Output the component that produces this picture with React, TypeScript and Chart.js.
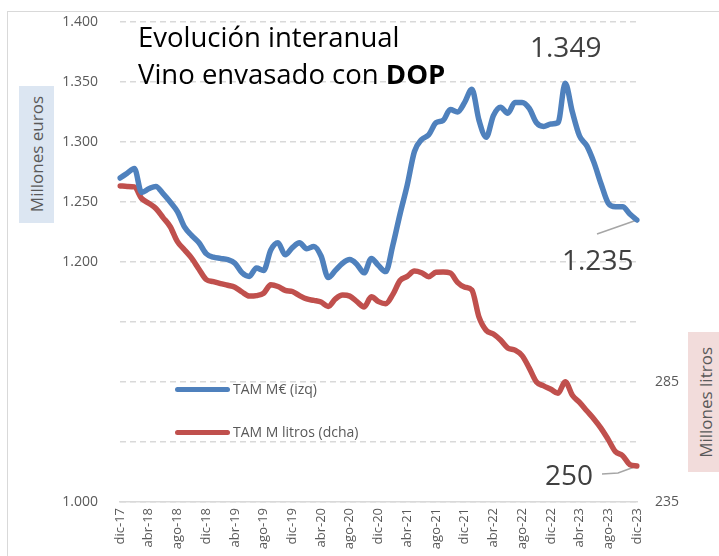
import React, { useEffect, useRef } from 'react';
import { Chart, registerables } from 'chart.js';

Chart.register(...registerables);

const MONTHS = ['ene', 'feb', 'mar', 'abr', 'may', 'jun', 'jul', 'ago', 'sep', 'oct', 'nov', 'dic'];
const YEARS = ['18', '19', '20', '21', '22', '23'];
const FIRST_CATEGORY = 'dic-17';
const CATEGORIES: string[] = [FIRST_CATEGORY];
YEARS.forEach((y) => MONTHS.forEach((m) => CATEGORIES.push(`${m}-${y}`)));

// TAM millones de euros (eje izquierdo)
const TAM_MEUR = [
  1270, 1274, 1278, 1258, 1261, 1263, 1257, 1250, 1242, 1229,
  1222, 1216, 1207, 1204, 1203, 1202, 1199, 1191, 1188, 1195,
  1193, 1210, 1216, 1206, 1212, 1216, 1211, 1213, 1205, 1187,
  1193, 1199, 1202, 1198, 1191, 1203, 1197, 1192, 1214, 1240,
  1264, 1292, 1302, 1306, 1316, 1318, 1327, 1325, 1333, 1344,
  1318, 1304, 1322, 1329, 1324, 1333, 1333, 1328, 1316, 1313,
  1315, 1316, 1349, 1325, 1305, 1297, 1283, 1265, 1249, 1246,
  1246, 1240, 1235,
];

// TAM millones de litros (eje derecho)
const TAM_MLITROS = [
  366.7, 366.5, 366.3, 361.5, 359.5, 357.3, 353.5, 349.7, 343.5, 340,
  336.5, 332, 327.7, 326.8, 326, 325.3, 324.5, 322.5, 320.8, 321,
  322, 325.5, 324.8, 323.2, 322.7, 321, 319.6, 319, 318.3, 316.5,
  319.6, 321.2, 320.8, 318.5, 316.3, 320.5, 318.5, 317.6, 321.5, 327.3,
  329, 331.2, 330.5, 328.9, 330.7, 330.8, 330.4, 326.5, 324.5, 323.3,
  312, 306.5, 305, 302.5, 299.2, 298.3, 296, 290.8, 285, 283.4,
  282, 280.3, 285.1, 279.5, 276.5, 273, 269.6, 265.7, 261, 256,
  254.3, 250.6, 250,
];

const LEFT_LABELS_SHOWN = [1000, 1200, 1250, 1300, 1350, 1400];
const RIGHT_LABELS_SHOWN = [235, 285];
const SERIES_NAMES = ['TAM M€ (izq)', 'TAM M litros (dcha)'];
const ANNOT_MAX = '1.349';
const ANNOT_LAST_EUR = '1.235';
const ANNOT_LAST_L = '250';

const BLUE = '#4f81bd';
const RED = '#c0504d';
const GRID = '#d9d9d9';
const TXT = '#595959';
const FONT = '"Open Sans", "Noto Sans", sans-serif';

const fmtThousands = (v: number) => {
  const n = Math.round(v);
  if (n >= 1000) return `${Math.floor(n / 1000)}.${String(n % 1000).padStart(3, '0')}`;
  return String(n);
};

const leaderPlugin = {
  id: 'leaders',
  beforeDatasetsDraw(chart: any) {
    const ctx = chart.ctx;
    const b = chart.getDatasetMeta(0).data[TAM_MEUR.length - 1];
    const r = chart.getDatasetMeta(1).data[TAM_MLITROS.length - 1];
    if (!b || !r) return;
    ctx.save();
    ctx.strokeStyle = '#a6a6a6';
    ctx.lineWidth = 1.5;
    ctx.beginPath();
    ctx.moveTo(b.x, b.y);
    ctx.lineTo(b.x - 40, b.y + 14);
    ctx.stroke();
    ctx.beginPath();
    ctx.moveTo(r.x, r.y);
    ctx.lineTo(r.x - 19, r.y + 7);
    ctx.lineTo(r.x - 35, r.y + 8);
    ctx.stroke();
    ctx.restore();
  },
};

const abs = (left: number, top: number, extra: React.CSSProperties = {}): React.CSSProperties => ({
  position: 'absolute',
  left,
  top,
  whiteSpace: 'nowrap',
  lineHeight: 1,
  fontFamily: FONT,
  ...extra,
});

export default function App() {
  const ref = useRef<HTMLCanvasElement | null>(null);

  useEffect(() => {
    if (!ref.current) return;
    const chart = new Chart(ref.current, {
      type: 'line',
      data: {
        labels: CATEGORIES,
        datasets: [
          {
            label: SERIES_NAMES[0],
            data: TAM_MEUR,
            yAxisID: 'y',
            borderColor: BLUE,
            backgroundColor: BLUE,
            borderWidth: 5.5,
            pointRadius: 0,
            cubicInterpolationMode: 'monotone',
            borderCapStyle: 'round',
            borderJoinStyle: 'round',
          },
          {
            label: SERIES_NAMES[1],
            data: TAM_MLITROS,
            yAxisID: 'y1',
            borderColor: RED,
            backgroundColor: RED,
            borderWidth: 5.5,
            pointRadius: 0,
            cubicInterpolationMode: 'monotone',
            borderCapStyle: 'round',
            borderJoinStyle: 'round',
          },
        ],
      },
      options: {
        responsive: false,
        animation: false,
        layout: { padding: { top: 22, left: 0, right: 0, bottom: 0 } },
        plugins: { legend: { display: false }, tooltip: { enabled: false }, title: { display: false } },
        scales: {
          x: {
            type: 'category',
            offset: false,
            grid: { display: false, drawTicks: false },
            border: { display: true, color: GRID, width: 1.5 },
            ticks: {
              autoSkip: false,
              maxRotation: 90,
              minRotation: 90,
              padding: 6,
              color: TXT,
              font: { family: FONT, size: 13 },
              callback: (_v: any, i: number) => (i % 4 === 0 ? CATEGORIES[i] : ''),
            },
            afterFit: (s: any) => {
              s.height = 54;
            },
          },
          y: {
            position: 'left',
            min: 1000,
            max: 1400,
            grid: { color: GRID, lineWidth: 1.5, drawTicks: false },
            border: { display: false, dash: [6, 4] },
            ticks: {
              stepSize: 50,
              padding: 22,
              color: TXT,
              font: { family: FONT, size: 14 },
              callback: (v: any) => (LEFT_LABELS_SHOWN.includes(Number(v)) ? fmtThousands(Number(v)) : ''),
            },
            afterFit: (s: any) => {
              s.width = 120;
              s.paddingTop = 0;
              s.paddingBottom = 0;
            },
          },
          y1: {
            position: 'right',
            min: 235,
            max: 435,
            grid: { drawOnChartArea: false, drawTicks: false },
            border: { display: false },
            ticks: {
              stepSize: 25,
              padding: 18,
              color: TXT,
              font: { family: FONT, size: 14 },
              callback: (v: any) => (RIGHT_LABELS_SHOWN.includes(Number(v)) ? String(v) : ''),
            },
            afterFit: (s: any) => {
              s.width = 82;
              s.paddingTop = 0;
              s.paddingBottom = 0;
            },
          },
        },
      },
      plugins: [leaderPlugin],
    });
    return () => chart.destroy();
  }, []);

  return (
    <div style={{ position: 'fixed', left: 0, top: 0, width: 719, height: 556, overflow: 'hidden', background: '#fff' }}>
      <div style={{ position: 'absolute', left: 7, top: 11, width: 800, height: 800, border: '1px solid #d9d9d9' }} />
      <canvas ref={ref} width={719} height={556} style={{ position: 'absolute', left: 0, top: 0, width: 719, height: 556 }} />

      <div style={abs(138, 23, { fontSize: 27.5, color: '#000' })}>Evolución interanual</div>
      <div style={abs(138, 60, { fontSize: 27.5, color: '#000' })}>
        Vino envasado con <b>DOP</b>
      </div>

      <div
        style={{
          position: 'absolute', left: 19, top: 86, width: 35, height: 137, background: '#dce6f2',
          display: 'flex', alignItems: 'center', justifyContent: 'center',
        }}
      >
        <span style={{ writingMode: 'vertical-rl', transform: 'rotate(180deg)', fontFamily: FONT, fontSize: 17, color: TXT, whiteSpace: 'nowrap', lineHeight: 1 }}>
          Millones euros
        </span>
      </div>
      <div
        style={{
          position: 'absolute', left: 688, top: 332, width: 34, height: 140, background: '#f2dcdb',
          display: 'flex', alignItems: 'center', justifyContent: 'center',
        }}
      >
        <span style={{ writingMode: 'vertical-rl', transform: 'rotate(180deg)', fontFamily: FONT, fontSize: 17, color: TXT, whiteSpace: 'nowrap', lineHeight: 1 }}>
          Millones litros
        </span>
      </div>

      <div style={{ position: 'absolute', left: 175, top: 387, width: 55, height: 5, borderRadius: 3, background: BLUE }} />
      <div style={abs(233, 382, { fontSize: 14, color: TXT })}>{SERIES_NAMES[0]}</div>
      <div style={{ position: 'absolute', left: 175, top: 430, width: 55, height: 5, borderRadius: 3, background: RED }} />
      <div style={abs(233, 425, { fontSize: 14, color: TXT })}>{SERIES_NAMES[1]}</div>

      <div style={abs(530, 32, { fontSize: 28, color: '#404040' })}>{ANNOT_MAX}</div>
      <div style={abs(562, 245, { fontSize: 28, color: '#404040' })}>{ANNOT_LAST_EUR}</div>
      <div style={abs(545, 460, { fontSize: 28, color: '#404040' })}>{ANNOT_LAST_L}</div>
    </div>
  );
}
